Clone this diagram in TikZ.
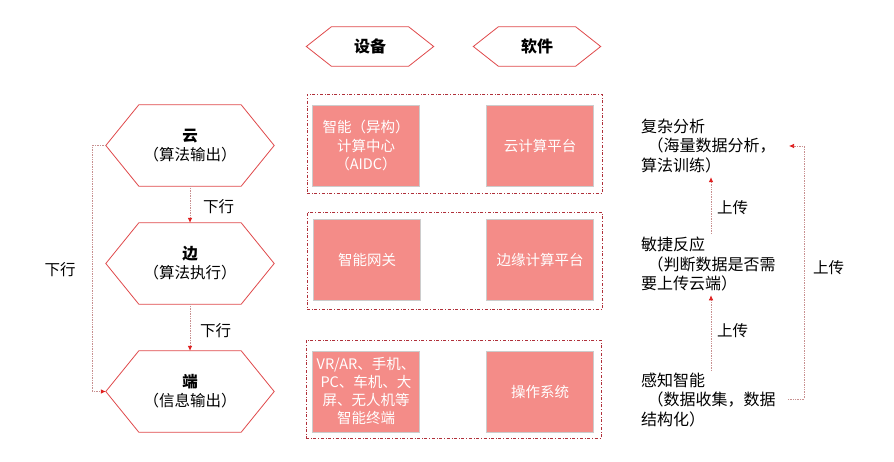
\documentclass[tikz,border=0pt]{standalone}
\usepackage{fontspec}
\setmainfont{Noto Sans CJK SC}
\usetikzlibrary{arrows.meta,calc}
\definecolor{hexred}{HTML}{E0494B}
\definecolor{boxred}{HTML}{B0303A}
\definecolor{fillpink}{HTML}{F48C88}
\definecolor{linec}{HTML}{C89090}
\definecolor{tipred}{HTML}{E02020}
\tikzset{
  hexnode/.style={minimum width=168pt,minimum height=81pt,inner sep=0pt,align=center,font=\fontsize{15.5}{19}\selectfont},
  tophex/.style={minimum width=127pt,minimum height=39pt,inner sep=0pt,font=\fontsize{16}{18}\selectfont\bfseries},
  group/.style={draw=boxred,dash dot,line width=0.7pt,inner sep=0pt},
  pinkbox/.style={fill=fillpink,draw=black!20,line width=0.4pt,minimum width=107pt,minimum height=81pt,inner sep=0pt,align=center,text=white,font=\fontsize{14.5}{18.5}\selectfont},
  conn/.style={draw=linec,densely dotted,line width=0.7pt,-{Latex[length=5pt,width=4.5pt,fill=tipred,color=tipred]}},
  lbl/.style={font=\fontsize{15.5}{19}\selectfont,inner sep=0pt},
  side/.style={font=\fontsize{16}{19.5}\selectfont,align=left,inner sep=0pt,anchor=west}
}
\newcommand{\hexpath}[2]{%
  \draw[hexred,line width=0.8pt] (#1.west) -- ([xshift=#2]#1.north west) -- ([xshift=-#2]#1.north east) -- (#1.east) -- ([xshift=-#2]#1.south east) -- ([xshift=#2]#1.south west) -- cycle;}
\begin{document}
\begin{tikzpicture}[x=1pt,y=-1pt]
\path[use as bounding box,fill=white] (0,0) rectangle (894,462);

% top hexagons
\node[tophex] (sb) at (370,46.5) {设备};
\node[tophex] (rj) at (537,46.5) {软件};
\hexpath{sb}{25pt}
\hexpath{rj}{25pt}

% left hexagons
\node[hexnode] (yun) at (190,145.5) {\textbf{云}\\（算法输出）};
\node[hexnode] (bian) at (190,263.5) {\textbf{边}\\（算法执行）};
\node[hexnode] (duan) at (190,391.5) {\textbf{端}\\（信息输出）};
\hexpath{yun}{33pt}
\hexpath{bian}{33pt}
\hexpath{duan}{33pt}

% group boxes
\node[group,minimum width=295pt,minimum height=99pt] (g1) at (454.5,143.5) {};
\node[group,minimum width=295pt,minimum height=97pt] (g2) at (454.5,260.5) {};
\node[group,minimum width=295pt,minimum height=98pt] (g3) at (453.5,389) {};

% pink boxes
\node[pinkbox] (d1) at (366,145.5) {智能（异构）\\计算中心\\（AIDC）};
\node[pinkbox] (s1) at (540,145.5) {云计算平台};
\node[pinkbox] (d2) at (367,259.5) {智能网关};
\node[pinkbox] (s2) at (540,259.5) {边缘计算平台};
\node[pinkbox,font=\fontsize{14.5}{18}\selectfont] (d3) at (366,391.5) {VR/AR、手机、\\PC、车机、大\\屏、无人机等\\智能终端};
\node[pinkbox] (s3) at (540,391.5) {操作系统};

% down arrows
\draw[conn] (yun.south) -- (bian.north);
\draw[conn] (bian.south) -- (duan.north);
\node[lbl,anchor=west] (l1) at (203,207) {下行};
\node[lbl,anchor=west] (l2) at (200,331) {下行};
\coordinate (lx) at (92,0);
\draw[conn] (yun.west) -- (yun.west -| lx) -- (duan.west -| lx) -- (duan.west);
\node[lbl] (l3) at (60,270) {下行};

% right column
\node[side] (fz) at (641,146) {复杂分析\\\hspace*{0.4em}（海量数据分析，\\算法训练）};
\node[side] (mj) at (641,264) {敏捷反应\\\hspace*{0.4em}（判断数据是否需\\要上传云端）};
\node[side] (gz) at (641,400) {感知智能\\\hspace*{0.4em}（数据收集，数据\\结构化）};
\coordinate (ax) at (711,0);
\draw[conn] ($(mj.north -| ax)+(0,-3)$) -- ($(fz.south -| ax)+(0,4)$);
\draw[conn] ($(gz.north -| ax)+(0,-2)$) -- ($(mj.south -| ax)+(0,4)$);
\node[lbl,anchor=west] (u1) at (717,208) {上传};
\node[lbl,anchor=west] (u2) at (717,331) {上传};
\coordinate (rx) at (804,0);
\draw[conn] (788,399) -- (rx |- 0,399) -- (rx |- 0,146) -- (789,146);
\node[lbl,anchor=west] (u3) at (813,268) {上传};
\end{tikzpicture}
\end{document}
